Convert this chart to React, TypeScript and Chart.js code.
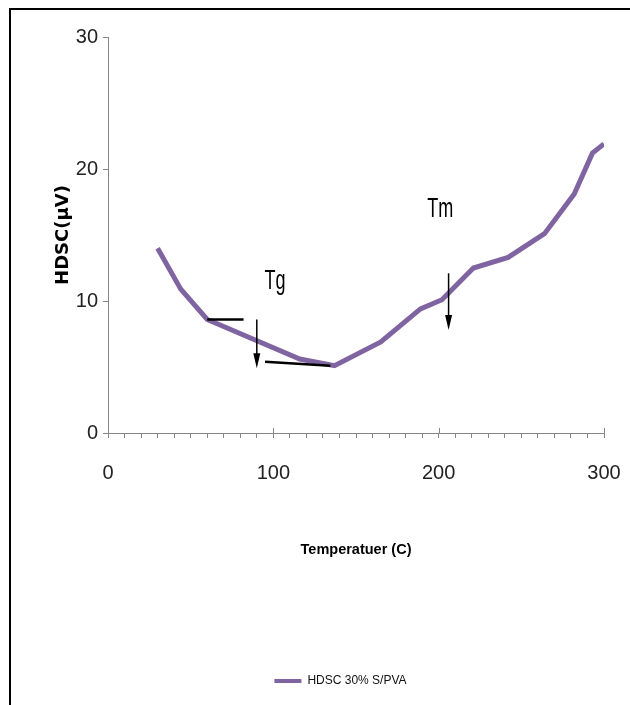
import { useEffect, useRef } from 'react';
import { Chart, registerables } from 'chart.js';

Chart.register(...registerables);

// HDSC signal of the 30% S/PVA film against temperature
const temperature = [30, 44, 60, 116, 137, 165, 189, 202, 221, 242, 264, 282, 293, 300];
const hdsc = [14.0, 10.9, 8.6, 5.6, 5.1, 6.9, 9.4, 10.1, 12.5, 13.3, 15.1, 18.1, 21.2, 21.9];
const seriesLabel = 'HDSC 30% S/PVA';

const xTicks = [0, 100, 200, 300];
const yTicks = [0, 10, 20, 30];

// Transition marks, in temperature / µV units
const tangentLines = [
  [[60, 8.6], [82, 8.6]],
  [[95, 5.4], [134.5, 5.1]],
];
const arrows = [
  { x: 90, from: 8.6, to: 4.9 },
  { x: 206, from: 12.1, to: 7.8 },
];
const transitionLabels = [
  { text: 'Tg', x: 101, y: 10.9 },
  { text: 'Tm', x: 201, y: 16.4 },
];

const SANS = '"Liberation Sans", Arial, sans-serif';
const AXIS_GREY = '#868686';
const PURPLE = '#8064A2';

const transitionsPlugin = {
  id: 'transitions',
  afterLayout(chart: any) {
    // the legend entry sits a little right of the page centre
    if (chart.legend) {
      chart.legend.left += 12;
      chart.legend.right += 12;
    }
  },
  afterDatasetsDraw(chart: any) {
    const { ctx, scales } = chart;
    const x = scales.x;
    const y = scales.y;
    ctx.save();

    // short upward stubs on the major x ticks
    ctx.strokeStyle = AXIS_GREY;
    ctx.lineWidth = 1;
    xTicks.forEach((v) => {
      const px = Math.round(x.getPixelForValue(v)) + 0.5;
      ctx.beginPath();
      ctx.moveTo(px, y.bottom - 5);
      ctx.lineTo(px, y.bottom);
      ctx.stroke();
    });

    ctx.strokeStyle = '#000';
    ctx.fillStyle = '#000';

    ctx.lineWidth = 2.5;
    tangentLines.forEach(([a, b]) => {
      ctx.beginPath();
      ctx.moveTo(x.getPixelForValue(a[0]), y.getPixelForValue(a[1]));
      ctx.lineTo(x.getPixelForValue(b[0]), y.getPixelForValue(b[1]));
      ctx.stroke();
    });

    ctx.lineWidth = 1.5;
    arrows.forEach((a) => {
      const px = x.getPixelForValue(a.x);
      const y0 = y.getPixelForValue(a.from);
      const y1 = y.getPixelForValue(a.to);
      ctx.beginPath();
      ctx.moveTo(px, y0);
      ctx.lineTo(px, y1 - 10);
      ctx.stroke();
      ctx.beginPath();
      ctx.moveTo(px - 3.5, y1 - 15);
      ctx.lineTo(px + 3.5, y1 - 15);
      ctx.lineTo(px, y1);
      ctx.closePath();
      ctx.fill();
    });

    // narrow, tall lettering for the transition names
    ctx.font = `22px ${SANS}`;
    ctx.textAlign = 'center';
    ctx.textBaseline = 'alphabetic';
    transitionLabels.forEach((l) => {
      ctx.save();
      ctx.translate(x.getPixelForValue(l.x), y.getPixelForValue(l.y));
      ctx.scale(0.82, 1.25);
      ctx.fillText(l.text, 0, 0);
      ctx.restore();
    });

    ctx.restore();
  },
};

export default function App() {
  const canvasRef = useRef<HTMLCanvasElement | null>(null);

  useEffect(() => {
    const canvas = canvasRef.current;
    if (!canvas) return;

    const chart = new Chart(canvas, {
      type: 'line',
      data: {
        datasets: [
          {
            label: seriesLabel,
            data: temperature.map((t, i) => ({ x: t, y: hdsc[i] })),
            borderColor: PURPLE,
            backgroundColor: PURPLE,
            borderWidth: 5,
            pointRadius: 0,
            tension: 0,
            fill: false,
          },
        ],
      },
      options: {
        responsive: false,
        animation: false,
        layout: { padding: { left: 42, top: 27, right: 26, bottom: 8 } },
        plugins: {
          legend: {
            position: 'bottom',
            labels: {
              boxWidth: 27,
              boxHeight: 4,
              padding: 10,
              color: '#111',
              font: { family: SANS, size: 12 },
              generateLabels: (c: any) =>
                Chart.defaults.plugins.legend.labels
                  .generateLabels(c)
                  .map((l: any) => ({ ...l, lineWidth: 0 })),
            },
          },
          tooltip: { enabled: false },
        },
        scales: {
          x: {
            type: 'linear',
            min: 0,
            max: 300,
            border: { display: true, color: AXIS_GREY, width: 1 },
            grid: {
              display: true,
              drawOnChartArea: false,
              drawTicks: true,
              tickLength: 5,
              color: AXIS_GREY,
            },
            ticks: {
              stepSize: 10,
              autoSkip: false,
              maxRotation: 0,
              padding: 2,
              color: '#222',
              font: { family: SANS, size: 20, lineHeight: 3.3 },
              callback: (v: any) => (xTicks.includes(Number(v)) ? String(v) : ''),
            },
            title: {
              display: true,
              text: 'Temperatuer (C)',
              color: '#000',
              font: { family: SANS, size: 14.5, weight: 'bold' },
              padding: { top: 0, bottom: 106 },
            },
            afterFit: (s: any) => {
              s.height = 232;
            },
          },
          y: {
            type: 'linear',
            min: 0,
            max: 30,
            border: { display: true, color: AXIS_GREY, width: 1 },
            grid: {
              display: true,
              drawOnChartArea: false,
              drawTicks: true,
              tickLength: 5,
              color: AXIS_GREY,
            },
            ticks: {
              stepSize: 10,
              padding: 5,
              color: '#222',
              font: { family: SANS, size: 20 },
              callback: (v: any) => (yTicks.includes(Number(v)) ? String(v) : ''),
            },
            title: {
              display: true,
              text: 'HDSC(μV)',
              color: '#000',
              font: { family: '"DejaVu Sans", sans-serif', size: 18, weight: 'bold' },
              padding: { top: 0, bottom: 0 },
            },
            afterFit: (s: any) => {
              s.width = 55;
            },
          },
        },
      },
      plugins: [transitionsPlugin],
    });

    return () => chart.destroy();
  }, []);

  return (
    <div
      style={{
        position: 'fixed',
        left: 9,
        top: 8,
        borderTop: '2px solid #000',
        borderLeft: '2px solid #000',
        background: '#fff',
      }}
    >
      <canvas ref={canvasRef} width={619} height={695} style={{ display: 'block' }} />
    </div>
  );
}
